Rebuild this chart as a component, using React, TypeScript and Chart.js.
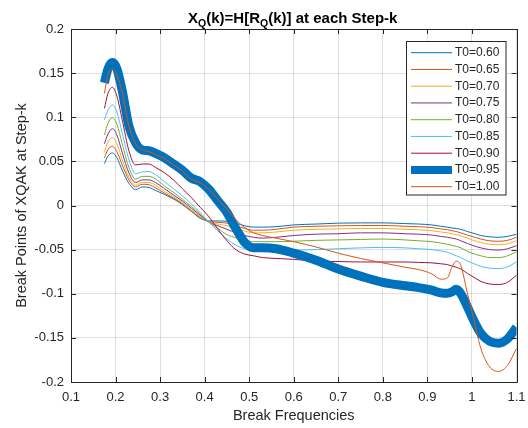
import { useEffect, useRef } from 'react';
import { Chart, registerables } from 'chart.js';

Chart.register(...registerables);

// Break frequencies shared by every curve
const FREQ = [
  0.175, 0.183, 0.193, 0.203, 0.215, 0.23, 0.245, 0.26, 0.275, 0.29,
  0.31, 0.33, 0.35, 0.37, 0.39, 0.41, 0.43, 0.45, 0.47, 0.49,
  0.51, 0.53, 0.56, 0.6, 0.65, 0.7, 0.75, 0.8, 0.85, 0.88,
  0.91, 0.93, 0.945, 0.955, 0.965, 0.975, 0.99, 1.0, 1.02, 1.04,
  1.06, 1.08, 1.1,
];

const T0_LABELS = ['T0=0.60', 'T0=0.65', 'T0=0.70', 'T0=0.75', 'T0=0.80', 'T0=0.85', 'T0=0.90', 'T0=0.95', 'T0=1.00'];

const XQ_060 = [
  0.0475, 0.056, 0.0595, 0.054, 0.040, 0.025, 0.018, 0.021, 0.0205, 0.017,
  0.0125, 0.0075, 0.001, -0.0065, -0.0145, -0.0175, -0.0175, -0.018, -0.020, -0.023,
  -0.0245, -0.0245, -0.024, -0.022, -0.021, -0.020, -0.0197, -0.0197, -0.0205, -0.021,
  -0.022, -0.0235, -0.0245, -0.0255, -0.026, -0.027, -0.0295, -0.031, -0.034, -0.0355,
  -0.036, -0.035, -0.0325,
];
const XQ_065 = [
  0.054, 0.0635, 0.067, 0.061, 0.046, 0.029, 0.021, 0.024, 0.0235, 0.020,
  0.014, 0.0085, 0.002, -0.006, -0.0135, -0.018, -0.019, -0.020, -0.023, -0.026,
  -0.028, -0.028, -0.027, -0.0245, -0.0235, -0.023, -0.0227, -0.0226, -0.0235, -0.024,
  -0.025, -0.0265, -0.0275, -0.0285, -0.0295, -0.031, -0.0335, -0.035, -0.038, -0.040,
  -0.0405, -0.0395, -0.036,
];
const XQ_070 = [
  0.061, 0.072, 0.077, 0.070, 0.052, 0.032, 0.023, 0.026, 0.026, 0.023,
  0.016, 0.010, 0.003, -0.005, -0.0125, -0.0185, -0.021, -0.023, -0.026, -0.029,
  -0.031, -0.031, -0.030, -0.028, -0.027, -0.0265, -0.026, -0.026, -0.027, -0.0275,
  -0.0285, -0.030, -0.031, -0.032, -0.033, -0.0345, -0.037, -0.039, -0.042, -0.044,
  -0.0445, -0.0435, -0.040,
];
const XQ_075 = [
  0.070, 0.081, 0.087, 0.080, 0.060, 0.037, 0.026, 0.029, 0.029, 0.026,
  0.019, 0.012, 0.005, -0.003, -0.011, -0.019, -0.023, -0.027, -0.031, -0.034,
  -0.036, -0.037, -0.036, -0.034, -0.0325, -0.032, -0.031, -0.031, -0.032, -0.0325,
  -0.0335, -0.035, -0.036, -0.037, -0.038, -0.040, -0.043, -0.045, -0.048, -0.050,
  -0.0505, -0.049, -0.0455,
];
const XQ_080 = [
  0.080, 0.093, 0.0995, 0.092, 0.070, 0.043, 0.030, 0.033, 0.033, 0.030,
  0.022, 0.015, 0.007, -0.001, -0.010, -0.019, -0.026, -0.033, -0.0365, -0.039,
  -0.041, -0.041, -0.041, -0.0405, -0.0395, -0.039, -0.0385, -0.038, -0.039, -0.040,
  -0.041, -0.0425, -0.044, -0.045, -0.0465, -0.048, -0.052, -0.054, -0.057, -0.059,
  -0.059, -0.057, -0.0525,
];
const XQ_085 = [
  0.097, 0.108, 0.114, 0.106, 0.082, 0.052, 0.036, 0.038, 0.0385, 0.035,
  0.027, 0.019, 0.011, 0.002, -0.008, -0.019, -0.029, -0.038, -0.045, -0.049,
  -0.0505, -0.0505, -0.0505, -0.0505, -0.050, -0.049, -0.048, -0.0475, -0.048, -0.049,
  -0.050, -0.0515, -0.053, -0.055, -0.057, -0.059, -0.063, -0.065, -0.069, -0.071,
  -0.0715, -0.0695, -0.064,
];
const XQ_090 = [
  0.110, 0.127, 0.134, 0.124, 0.097, 0.062, 0.046, 0.047, 0.047, 0.043,
  0.037, 0.029, 0.019, 0.009, -0.002, -0.013, -0.027, -0.040, -0.050, -0.055,
  -0.057, -0.059, -0.060, -0.061, -0.063, -0.0635, -0.064, -0.064, -0.064, -0.0645,
  -0.065, -0.066, -0.067, -0.0685, -0.070, -0.072, -0.077, -0.080, -0.086, -0.089,
  -0.0895, -0.087, -0.079,
];
const XQ_095 = [
  0.139, 0.155, 0.162, 0.155, 0.130, 0.090, 0.071, 0.063, 0.062, 0.059,
  0.054, 0.047, 0.040, 0.031, 0.027, 0.018, 0.005, -0.008, -0.026, -0.042,
  -0.048, -0.048, -0.049, -0.054, -0.062, -0.072, -0.080, -0.087, -0.091, -0.093,
  -0.096, -0.099, -0.0995, -0.098, -0.095, -0.100, -0.115, -0.126, -0.145, -0.154,
  -0.156, -0.151, -0.138,
];
const XQ_100 = [
  0.127, 0.148, 0.155, 0.148, 0.128, 0.090, 0.070, 0.063, 0.061, 0.058,
  0.053, 0.046, 0.039, 0.030, 0.026, 0.018, 0.007, -0.004, -0.016, -0.025,
  -0.031, -0.034, -0.037, -0.041, -0.047, -0.054, -0.060, -0.065, -0.070, -0.0725,
  -0.0775, -0.0835, -0.082, -0.070, -0.063, -0.068, -0.100, -0.120, -0.162, -0.183,
  -0.188, -0.181, -0.162,
];

const SERIES_VALUES = [XQ_060, XQ_065, XQ_070, XQ_075, XQ_080, XQ_085, XQ_090, XQ_095, XQ_100];

const X_TICK_VALUES = [0.1, 0.2, 0.3, 0.4, 0.5, 0.6, 0.7, 0.8, 0.9, 1.0, 1.1];
const X_TICK_LABELS = ['0.1', '0.2', '0.3', '0.4', '0.5', '0.6', '0.7', '0.8', '0.9', '1', '1.1'];
const Y_TICK_VALUES = [-0.2, -0.15, -0.1, -0.05, 0, 0.05, 0.1, 0.15, 0.2];
const Y_TICK_LABELS = ['-0.2', '-0.15', '-0.1', '-0.05', '0', '0.05', '0.1', '0.15', '0.2'];

// Line styling (MATLAB default colour order)
const LINE_COLORS = ['#0072BD', '#D95319', '#EDB120', '#7E2F8E', '#77AC30', '#4DBEEE', '#A2142F', '#0072BD', '#D95319'];
const LINE_WIDTHS = [1, 1, 1, 1, 1, 1, 1, 9, 1];

const FONT = "'Liberation Sans', Arial, Helvetica, sans-serif";
const INK = '#262626';
const GRID = 'rgba(38,38,38,0.15)';

const framePlugin = {
  id: 'matlabFrame',
  afterDraw(chart: any) {
    const { ctx, chartArea, scales } = chart;
    const { left, right, top, bottom } = chartArea;
    ctx.save();

    // axes box with inward tick marks on all four sides
    ctx.strokeStyle = INK;
    ctx.lineWidth = 1;
    ctx.beginPath();
    ctx.rect(Math.round(left) + 0.5, Math.round(top) + 0.5, Math.round(right - left), Math.round(bottom - top));
    ctx.stroke();
    const TL = 5;
    ctx.beginPath();
    X_TICK_VALUES.forEach((v) => {
      const px = Math.round(scales.x.getPixelForValue(v)) + 0.5;
      ctx.moveTo(px, bottom);
      ctx.lineTo(px, bottom - TL);
      ctx.moveTo(px, top);
      ctx.lineTo(px, top + TL);
    });
    Y_TICK_VALUES.forEach((v) => {
      const py = Math.round(scales.y.getPixelForValue(v)) + 0.5;
      ctx.moveTo(left, py);
      ctx.lineTo(left + TL, py);
      ctx.moveTo(right, py);
      ctx.lineTo(right - TL, py);
    });
    ctx.stroke();

    // title with subscripts: X_Q(k)=H[R_Q(k)] at each Step-k
    const parts: [string, boolean][] = [
      ['X', false], ['Q', true], ['(k)=H[R', false], ['Q', true], ['(k)] at each Step-k', false],
    ];
    const mainFont = `bold 15px ${FONT}`;
    const subFont = `bold 10.5px ${FONT}`;
    let total = 0;
    parts.forEach(([t, sub]) => {
      ctx.font = sub ? subFont : mainFont;
      total += ctx.measureText(t).width;
    });
    let tx = (left + right) / 2 - total / 2 - 1;
    const baseY = 22.5;
    ctx.fillStyle = '#000000';
    ctx.textBaseline = 'alphabetic';
    ctx.textAlign = 'left';
    parts.forEach(([t, sub]) => {
      ctx.font = sub ? subFont : mainFont;
      ctx.fillText(t, tx, sub ? baseY + 4 : baseY);
      tx += ctx.measureText(t).width;
    });

    // legend
    const bx = 406.5, by = 41.5, bw = 99.5, bh = 153.5;
    ctx.fillStyle = '#ffffff';
    ctx.fillRect(bx, by, bw, bh);
    ctx.strokeStyle = INK;
    ctx.lineWidth = 1;
    ctx.strokeRect(bx, by, bw, bh);
    ctx.font = `12px ${FONT}`;
    ctx.textBaseline = 'middle';
    T0_LABELS.forEach((label, i) => {
      const cy = 52.7 + i * 16.75;
      ctx.strokeStyle = LINE_COLORS[i];
      ctx.lineWidth = LINE_WIDTHS[i] > 1 ? 8 : 1;
      ctx.beginPath();
      ctx.moveTo(411, cy);
      ctx.lineTo(452, cy);
      ctx.stroke();
      ctx.fillStyle = INK;
      ctx.fillText(label, 455, cy);
    });
    ctx.restore();
  },
};

export default function App() {
  const canvasRef = useRef<HTMLCanvasElement>(null);

  useEffect(() => {
    const canvas = canvasRef.current;
    if (!canvas) return;
    const chart = new Chart(canvas, {
      type: 'line',
      data: {
        datasets: SERIES_VALUES.map((values, i) => ({
          label: T0_LABELS[i],
          data: FREQ.map((x, j) => ({ x, y: values[j] })),
          borderColor: LINE_COLORS[i],
          backgroundColor: LINE_COLORS[i],
          borderWidth: LINE_WIDTHS[i],
          pointRadius: 0,
          fill: false,
          cubicInterpolationMode: 'monotone' as const,
          borderJoinStyle: 'round' as const,
          order: SERIES_VALUES.length - i,
        })),
      },
      options: {
        animation: false,
        responsive: false,
        events: [],
        layout: { padding: { top: 29, right: 11.5, left: 0, bottom: 0 } },
        plugins: {
          legend: { display: false },
          title: { display: false },
          tooltip: { enabled: false },
        },
        scales: {
          x: {
            type: 'linear',
            min: 0.1,
            max: 1.1,
            afterFit: (s: any) => { s.height = 46; },
            afterBuildTicks: (s: any) => { s.ticks = X_TICK_VALUES.map((value) => ({ value })); },
            grid: { color: GRID, drawTicks: true, tickLength: 6, tickColor: 'rgba(0,0,0,0)', lineWidth: 1 },
            border: { display: false },
            ticks: {
              padding: 2,
              color: INK,
              font: { family: FONT, size: 13 },
              maxRotation: 0,
              autoSkip: false,
              callback: (_v: any, i: number) => X_TICK_LABELS[i],
            },
            title: {
              display: true,
              text: 'Break Frequencies',
              color: INK,
              font: { family: FONT, size: 14.5 },
              padding: { top: 0, bottom: 3 },
            },
          },
          y: {
            type: 'linear',
            min: -0.2,
            max: 0.2,
            afterFit: (s: any) => { s.width = 71; },
            afterBuildTicks: (s: any) => { s.ticks = Y_TICK_VALUES.map((value) => ({ value })); },
            grid: { color: GRID, drawTicks: false, lineWidth: 1 },
            border: { display: false },
            ticks: {
              padding: 7,
              color: INK,
              font: { family: FONT, size: 13 },
              autoSkip: false,
              callback: (_v: any, i: number) => Y_TICK_LABELS[i],
            },
            title: {
              display: true,
              text: 'Break Points of XQAK at Step-k',
              color: INK,
              font: { family: FONT, size: 14.5 },
              padding: { top: 13, bottom: 0 },
            },
          },
        },
      },
      plugins: [framePlugin],
    });
    return () => chart.destroy();
  }, []);

  return (
    <div style={{ position: 'absolute', left: 0, top: 0, width: 528, height: 428, background: '#ffffff' }}>
      <canvas ref={canvasRef} width={528} height={428} />
    </div>
  );
}
